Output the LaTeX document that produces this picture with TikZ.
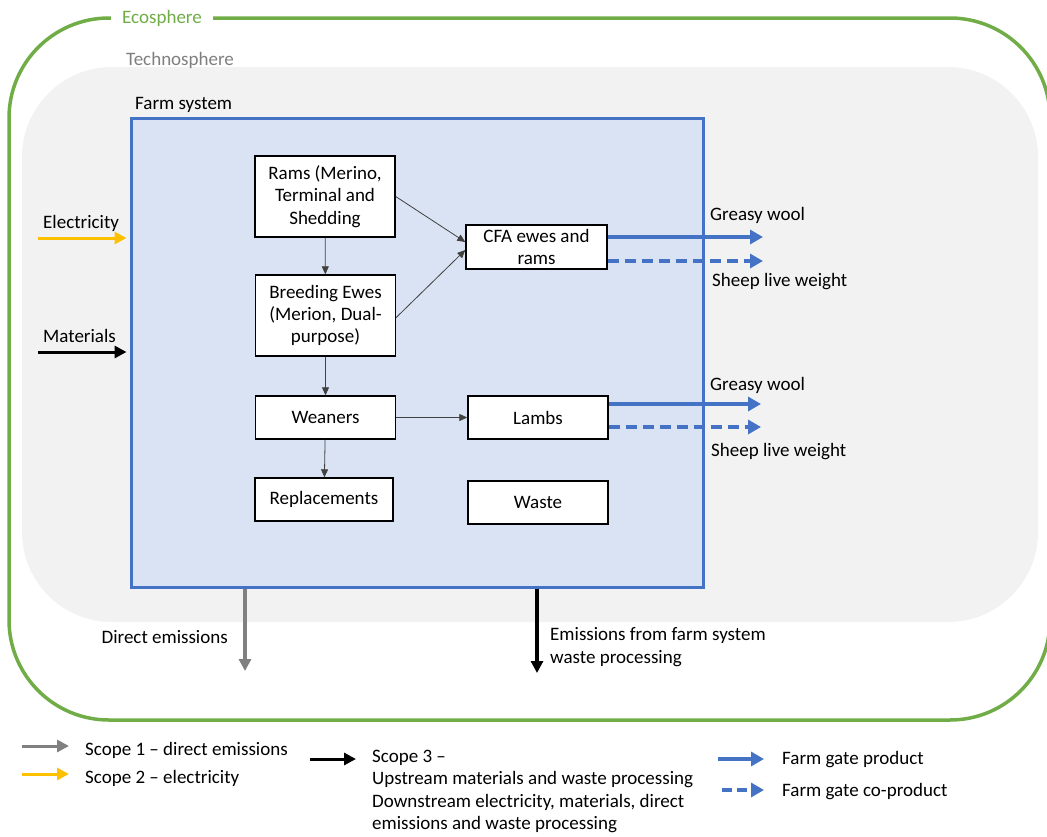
\documentclass[tikz,border=0pt]{standalone}
\usepackage{fontspec}
\setmainfont{Carlito}
\usetikzlibrary{arrows.meta}
\definecolor{ecogreen}{HTML}{70AD47}
\definecolor{techgray}{HTML}{F2F2F2}
\definecolor{techtext}{HTML}{7F7F7F}
\definecolor{farmfill}{HTML}{DAE3F3}
\definecolor{farmblue}{HTML}{4472C4}
\definecolor{elecyellow}{HTML}{FFC000}
\definecolor{emisgray}{HTML}{808080}
\definecolor{flowgray}{HTML}{404040}
\begin{document}
\begin{tikzpicture}[x=1pt, y=-1pt,
  font=\fontsize{19}{22.3}\selectfont,
  stage/.style={draw=black, line width=1.4pt, fill=white, align=center,
    inner sep=0pt, minimum width=140pt},
  lbl/.style={inner sep=0pt, text height=12pt, text depth=4pt},
  flow/.style={draw=flowgray, line width=0.8pt, -{Triangle[length=8pt, width=7pt]}},
  prod/.style={draw=farmblue, line width=3.5pt, -{Triangle[length=13pt, width=14pt]}},
  coprod/.style={prod, dash pattern=on 11pt off 6pt},
  bigarrow/.style={line width=3.5pt, -{Triangle[length=12pt, width=12pt]}},
]
\useasboundingbox (0,0) rectangle (1047,836);

% Ecosphere boundary
\draw[ecogreen, line width=3.5pt, rounded corners=100pt] (9,18) rectangle (1050,720);
\node[lbl, fill=white, inner xsep=11pt, text=ecogreen] (eco) at (162,19) {Ecosphere};

% Technosphere
\fill[techgray, rounded corners=90pt] (22,67) rectangle (1038,622);
\node[lbl, anchor=west, text=techtext] (tech) at (126,61) {Technosphere};

% Farm system
\node[draw=farmblue, line width=3pt, fill=farmfill, minimum width=572pt,
  minimum height=469pt, inner sep=0pt] (farm) at (417,352.5) {};
\node[lbl, anchor=west] (farmlbl) at (135,105) {Farm system};

% Stages
\node[stage, minimum height=81pt] (rams) at (325,196.5) {Rams (Merino,\\Terminal and\\Shedding};
\node[stage, minimum height=81pt] (ewes) at (325.5,315.5) {Breeding Ewes\\(Merion, Dual-\\purpose)};
\node[stage, minimum height=43pt] (wean) at (325.5,417.5) {Weaners};
\node[stage, minimum height=43pt, minimum width=138pt] (repl) at (324,499.5) {Replacements};
\node[stage, minimum height=44pt, minimum width=141pt] (cfa) at (536.5,247) {CFA ewes and\\rams};
\node[stage, minimum height=43pt] (lambs) at (538,417.5) {Lambs};
\node[stage, minimum height=43pt] (waste) at (538,502.5) {Waste};

% Herd flows
\draw[flow] (rams) -- (ewes);
\draw[flow] (ewes) -- (wean);
\draw[flow] (wean) -- (repl);
\draw[flow] (wean) -- (lambs);
\draw[flow] (rams.east) -- ([yshift=5pt]cfa.west);
\draw[flow] ([yshift=-2pt]ewes.east) -- ([yshift=-3pt]cfa.west);

% Farm gate outputs
\coordinate (gw1) at (763,237);
\coordinate (lw1) at (763,261);
\coordinate (gw2) at (761,404);
\coordinate (lw2) at (761,427);
\draw[prod] (cfa.east |- gw1) -- (gw1);
\draw[coprod] (cfa.east |- lw1) -- (lw1);
\draw[prod] (lambs.east |- gw2) -- (gw2);
\draw[coprod] (lambs.east |- lw2) -- (lw2);
\node[lbl, anchor=west] (gwl1) at (710,216) {Greasy wool};
\node[lbl, anchor=west] (lwl1) at (712,282) {Sheep live weight};
\node[lbl, anchor=west] (gwl2) at (710,386) {Greasy wool};
\node[lbl, anchor=west] (lwl2) at (711,452) {Sheep live weight};

% Inputs
\coordinate (elec) at (38,238);
\coordinate (mat) at (38,352);
\draw[bigarrow, elecyellow, line width=3pt] (elec) -- ([xshift=-3pt]farm.west |- elec);
\draw[bigarrow, black, line width=3pt] (mat) -- ([xshift=-3pt]farm.west |- mat);
\node[lbl, anchor=west] (elecl) at (43,224) {Electricity};
\node[lbl, anchor=west] (matl) at (43,338) {Materials};

% Emissions
\coordinate (dem) at (245,671);
\coordinate (wem) at (537,673);
\draw[bigarrow, emisgray] (farm.south -| dem) -- (dem);
\draw[bigarrow, black] (farm.south -| wem) -- (wem);
\node[lbl, anchor=east] (deml) at (228,639) {Direct emissions};
\node[anchor=west, align=left, inner sep=0pt] (weml) at (550,647)
  {Emissions from farm system\\waste processing};

% Legend
\coordinate (s1a) at (22,746);  \coordinate (s1b) at (69,746);
\coordinate (s2a) at (22,774);  \coordinate (s2b) at (69,774);
\coordinate (s3a) at (310,759); \coordinate (s3b) at (356,759);
\coordinate (pa) at (718,759);  \coordinate (pb) at (764,759);
\coordinate (ca) at (722,790);  \coordinate (cb) at (764,790);
\draw[bigarrow, emisgray, line width=3pt] (s1a) -- (s1b);
\draw[bigarrow, elecyellow, line width=3pt] (s2a) -- (s2b);
\draw[bigarrow, black, line width=3pt] (s3a) -- (s3b);
\draw[prod] (pa) -- (pb);
\draw[prod, dash pattern=on 10pt off 5pt] (ca) -- (cb);
\node[lbl, anchor=west] (s1l) at (85,751) {Scope 1 – direct emissions};
\node[lbl, anchor=west] (s2l) at (85,779) {Scope 2 – electricity};
\node[anchor=north west, align=left, inner sep=0pt] (s3l) at (372,750)
  {Scope 3 –\\Upstream materials and waste processing\\Downstream electricity, materials, direct\\emissions and waste processing};
\node[lbl, anchor=west] (pl) at (782,760) {Farm gate product};
\node[lbl, anchor=west] (cl) at (782,792) {Farm gate co-product};
\end{tikzpicture}
\end{document}
